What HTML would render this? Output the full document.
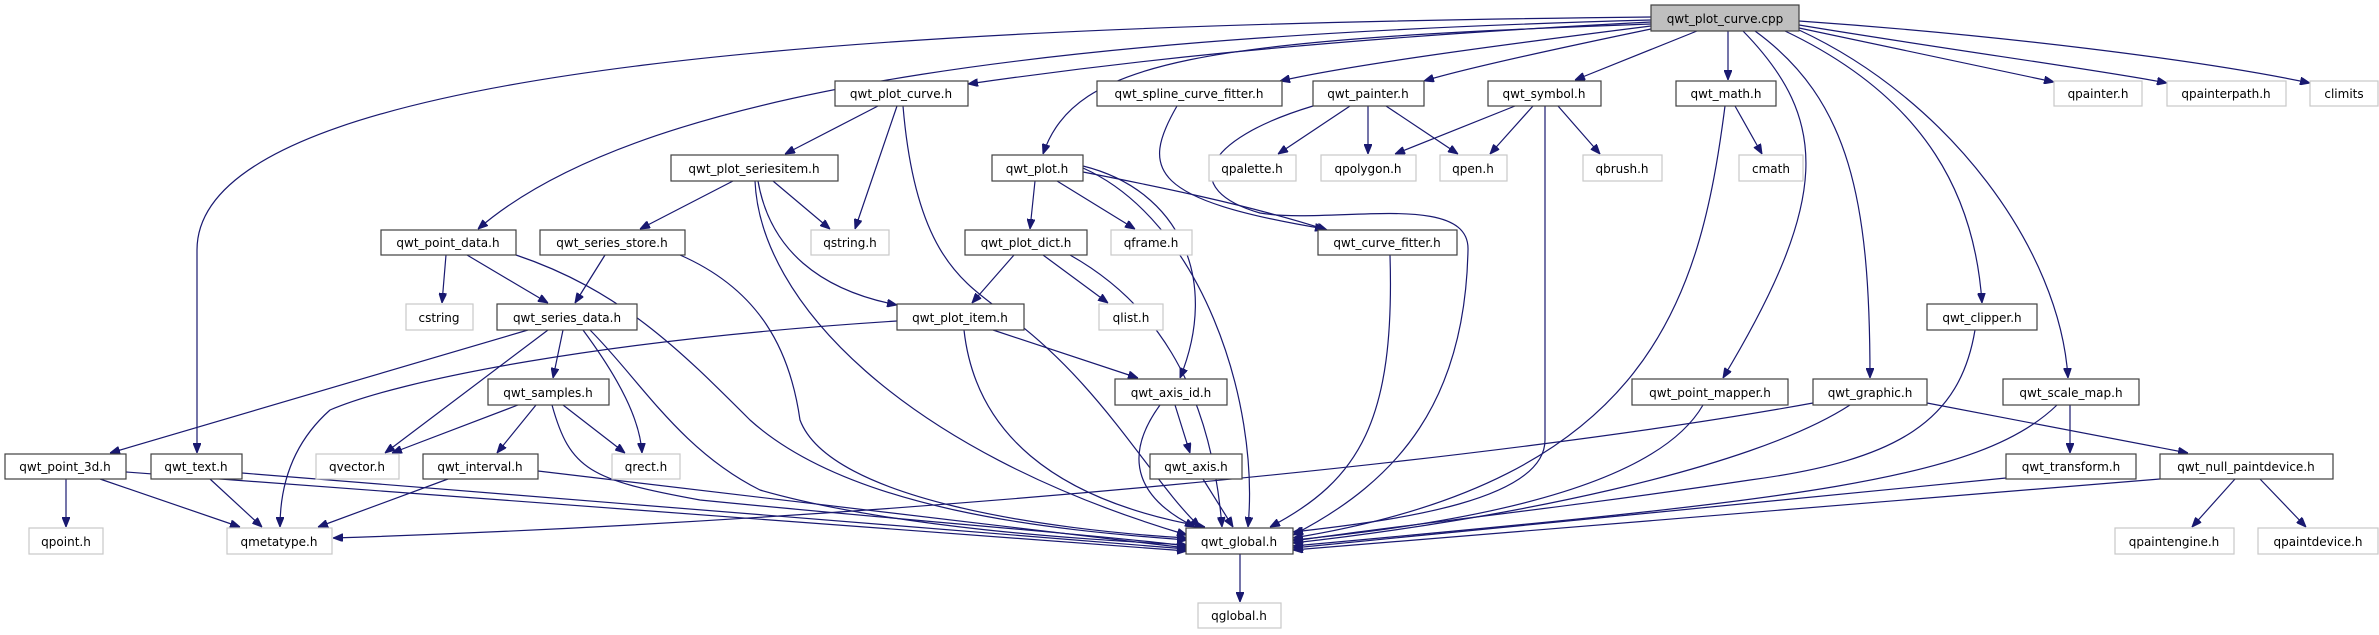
<!DOCTYPE html>
<html><head><meta charset="utf-8"><style>
html,body{margin:0;padding:0;background:#fff;}
svg{display:block;}
text{font-family:"DejaVu Sans","Liberation Sans",sans-serif;font-size:12px;fill:#000;}
.e{fill:none;stroke:#191970;stroke-width:1.2;}
.n rect{fill:#fff;stroke:#404040;stroke-width:1.2;}
.q rect{fill:#fff;stroke:#c8c8c8;stroke-width:1.2;}
</style></head><body>
<svg width="2379" height="635" viewBox="0 0 2379 635" xmlns="http://www.w3.org/2000/svg">
<defs><marker id="a" markerWidth="10" markerHeight="8" refX="10" refY="4" orient="auto" markerUnits="userSpaceOnUse"><path d="M0,0 L10,4 L0,8 z" fill="#191970" stroke="#191970"/></marker></defs>
<g class="e" marker-end="url(#a)">
<path d="M1651,17 C900,25 197,60 197,250 L197,453"/>
<path d="M1651,20 C1100,35 650,80 478,229"/>
<path d="M1651,22 C1300,40 1100,65 968,84"/>
<path d="M1651,24 C1200,40 1075,60 1043,154"/>
<path d="M1651,26 C1500,45 1350,65 1280,81"/>
<path d="M1651,29 C1550,50 1460,70 1424,81"/>
<path d="M1697,31 L1575,80"/>
<path d="M1728,31 L1728,80"/>
<path d="M1743,31 C1830,120 1830,200 1723,378"/>
<path d="M1755,31 C1850,100 1870,200 1870,378"/>
<path d="M1785,31 C1930,100 1975,200 1982,303"/>
<path d="M1799,30 C1950,100 2060,250 2068,378"/>
<path d="M1799,28 L2054,82"/>
<path d="M1799,25 C1950,50 2100,70 2167,83"/>
<path d="M1799,21 C2000,35 2200,60 2310,83"/>
<path d="M878,106 L785,154"/>
<path d="M897,106 L855,229"/>
<path d="M903,106 C915,250 960,280 1000,310 C1100,380 1150,480 1200,527"/>
<path d="M733,181 L640,229"/>
<path d="M773,181 L830,229"/>
<path d="M758,181 C770,250 820,290 897,305"/>
<path d="M755,181 C760,300 900,450 1187,535"/>
<path d="M1035,181 L1030,229"/>
<path d="M1057,181 L1135,229"/>
<path d="M1083,166 C1180,190 1220,280 1180,378"/>
<path d="M1083,168 C1200,220 1260,400 1248,527"/>
<path d="M1083,172 C1150,185 1250,205 1327,230"/>
<path d="M1177,106 C1140,170 1150,200 1325,229"/>
<path d="M1350,106 L1278,154"/>
<path d="M1368,106 L1368,154"/>
<path d="M1386,106 L1458,154"/>
<path d="M1313,106 C1200,140 1180,190 1260,213 C1330,225 1470,190 1468,250 C1465,400 1400,480 1293,535"/>
<path d="M1515,106 L1395,154"/>
<path d="M1533,106 L1490,154"/>
<path d="M1558,106 L1600,154"/>
<path d="M1545,106 L1545,440 C1545,500 1400,520 1293,532"/>
<path d="M1735,106 L1762,154"/>
<path d="M1725,106 C1700,300 1650,480 1293,538"/>
<path d="M1390,255 C1395,420 1360,480 1270,527"/>
<path d="M446,255 L442,303"/>
<path d="M467,255 L548,303"/>
<path d="M516,255 C620,290 680,350 750,420 C850,510 1050,530 1187,540"/>
<path d="M605,255 L575,303"/>
<path d="M680,255 C760,290 790,350 800,420 C830,500 1050,530 1187,538"/>
<path d="M528,330 L110,453"/>
<path d="M548,330 L385,453"/>
<path d="M563,330 L553,378"/>
<path d="M583,330 C620,380 640,420 642,453"/>
<path d="M590,330 C640,380 680,450 760,490 C900,530 1100,540 1187,545"/>
<path d="M1014,255 L972,303"/>
<path d="M1043,255 L1108,303"/>
<path d="M1070,255 C1150,300 1210,380 1222,527"/>
<path d="M897,321 C600,340 400,380 330,410 C285,450 280,500 280,527"/>
<path d="M993,330 L1138,378"/>
<path d="M964,330 C975,430 1050,500 1205,527"/>
<path d="M518,405 L392,453"/>
<path d="M536,405 L497,453"/>
<path d="M563,405 L625,453"/>
<path d="M552,405 C570,470 590,480 700,500 C900,520 1100,535 1187,546"/>
<path d="M448,479 L318,527"/>
<path d="M538,471 L1187,548"/>
<path d="M66,479 L66,527"/>
<path d="M100,479 L240,527"/>
<path d="M126,472 L1187,551"/>
<path d="M210,479 L262,527"/>
<path d="M242,473 L1187,549"/>
<path d="M1175,405 L1190,453"/>
<path d="M1160,405 C1120,460 1140,500 1195,527"/>
<path d="M1203,479 L1233,527"/>
<path d="M1240,554 L1240,602"/>
<path d="M1703,405 C1660,480 1500,520 1293,540"/>
<path d="M1813,403 C1500,460 900,520 333,538"/>
<path d="M1850,405 C1750,470 1500,520 1293,543"/>
<path d="M1927,403 L2188,453"/>
<path d="M1975,330 C1960,420 1900,460 1750,480 C1550,510 1400,525 1293,541"/>
<path d="M2070,405 L2070,453"/>
<path d="M2057,405 C1980,480 1800,500 1293,546"/>
<path d="M2006,478 L1293,548"/>
<path d="M2235,479 L2192,527"/>
<path d="M2260,479 L2306,527"/>
<path d="M2160,479 L1293,550"/>
</g>
<g>
<rect x="1651" y="5" width="148" height="26" fill="#bfbfbf" stroke="#404040" stroke-width="1.2"/><text x="1725" y="23" text-anchor="middle">qwt_plot_curve.cpp</text>
</g>
<g class="n">
<rect x="835" y="81" width="133" height="25"/><text x="901" y="98" text-anchor="middle">qwt_plot_curve.h</text>
<rect x="1097" y="81" width="185" height="25"/><text x="1189" y="98" text-anchor="middle">qwt_spline_curve_fitter.h</text>
<rect x="1313" y="81" width="111" height="25"/><text x="1368" y="98" text-anchor="middle">qwt_painter.h</text>
<rect x="1488" y="81" width="113" height="25"/><text x="1544" y="98" text-anchor="middle">qwt_symbol.h</text>
<rect x="1676" y="81" width="100" height="25"/><text x="1726" y="98" text-anchor="middle">qwt_math.h</text>
<rect x="671" y="155" width="167" height="26"/><text x="754" y="173" text-anchor="middle">qwt_plot_seriesitem.h</text>
<rect x="992" y="155" width="91" height="26"/><text x="1037" y="173" text-anchor="middle">qwt_plot.h</text>
<rect x="381" y="230" width="135" height="25"/><text x="448" y="247" text-anchor="middle">qwt_point_data.h</text>
<rect x="540" y="230" width="145" height="25"/><text x="612" y="247" text-anchor="middle">qwt_series_store.h</text>
<rect x="965" y="230" width="122" height="25"/><text x="1026" y="247" text-anchor="middle">qwt_plot_dict.h</text>
<rect x="1318" y="230" width="139" height="25"/><text x="1387" y="247" text-anchor="middle">qwt_curve_fitter.h</text>
<rect x="497" y="304" width="140" height="26"/><text x="567" y="322" text-anchor="middle">qwt_series_data.h</text>
<rect x="897" y="304" width="127" height="26"/><text x="960" y="322" text-anchor="middle">qwt_plot_item.h</text>
<rect x="1927" y="304" width="110" height="26"/><text x="1982" y="322" text-anchor="middle">qwt_clipper.h</text>
<rect x="488" y="379" width="121" height="26"/><text x="548" y="397" text-anchor="middle">qwt_samples.h</text>
<rect x="1115" y="379" width="112" height="26"/><text x="1171" y="397" text-anchor="middle">qwt_axis_id.h</text>
<rect x="1632" y="379" width="156" height="26"/><text x="1710" y="397" text-anchor="middle">qwt_point_mapper.h</text>
<rect x="1813" y="379" width="114" height="26"/><text x="1870" y="397" text-anchor="middle">qwt_graphic.h</text>
<rect x="2003" y="379" width="136" height="26"/><text x="2071" y="397" text-anchor="middle">qwt_scale_map.h</text>
<rect x="5" y="454" width="121" height="25"/><text x="65" y="471" text-anchor="middle">qwt_point_3d.h</text>
<rect x="151" y="454" width="91" height="25"/><text x="196" y="471" text-anchor="middle">qwt_text.h</text>
<rect x="423" y="454" width="115" height="25"/><text x="480" y="471" text-anchor="middle">qwt_interval.h</text>
<rect x="1150" y="454" width="92" height="25"/><text x="1196" y="471" text-anchor="middle">qwt_axis.h</text>
<rect x="2006" y="454" width="130" height="25"/><text x="2071" y="471" text-anchor="middle">qwt_transform.h</text>
<rect x="2160" y="454" width="173" height="25"/><text x="2246" y="471" text-anchor="middle">qwt_null_paintdevice.h</text>
<rect x="1186" y="528" width="107" height="26"/><text x="1239" y="546" text-anchor="middle">qwt_global.h</text>
</g>
<g class="q">
<rect x="2054" y="81" width="88" height="25"/><text x="2098" y="98" text-anchor="middle">qpainter.h</text>
<rect x="2167" y="81" width="119" height="25"/><text x="2226" y="98" text-anchor="middle">qpainterpath.h</text>
<rect x="2310" y="81" width="68" height="25"/><text x="2344" y="98" text-anchor="middle">climits</text>
<rect x="1209" y="155" width="87" height="26"/><text x="1252" y="173" text-anchor="middle">qpalette.h</text>
<rect x="1321" y="155" width="95" height="26"/><text x="1368" y="173" text-anchor="middle">qpolygon.h</text>
<rect x="1440" y="155" width="67" height="26"/><text x="1473" y="173" text-anchor="middle">qpen.h</text>
<rect x="1583" y="155" width="79" height="26"/><text x="1622" y="173" text-anchor="middle">qbrush.h</text>
<rect x="1739" y="155" width="64" height="26"/><text x="1771" y="173" text-anchor="middle">cmath</text>
<rect x="811" y="230" width="78" height="25"/><text x="850" y="247" text-anchor="middle">qstring.h</text>
<rect x="1111" y="230" width="81" height="25"/><text x="1151" y="247" text-anchor="middle">qframe.h</text>
<rect x="406" y="304" width="67" height="26"/><text x="439" y="322" text-anchor="middle">cstring</text>
<rect x="1099" y="304" width="64" height="26"/><text x="1131" y="322" text-anchor="middle">qlist.h</text>
<rect x="316" y="454" width="83" height="25"/><text x="357" y="471" text-anchor="middle">qvector.h</text>
<rect x="612" y="454" width="68" height="25"/><text x="646" y="471" text-anchor="middle">qrect.h</text>
<rect x="29" y="528" width="74" height="26"/><text x="66" y="546" text-anchor="middle">qpoint.h</text>
<rect x="227" y="528" width="105" height="26"/><text x="279" y="546" text-anchor="middle">qmetatype.h</text>
<rect x="2115" y="528" width="119" height="26"/><text x="2174" y="546" text-anchor="middle">qpaintengine.h</text>
<rect x="2258" y="528" width="120" height="26"/><text x="2318" y="546" text-anchor="middle">qpaintdevice.h</text>
<rect x="1198" y="603" width="83" height="25"/><text x="1239" y="620" text-anchor="middle">qglobal.h</text>
</g>
</svg>
</body></html>
